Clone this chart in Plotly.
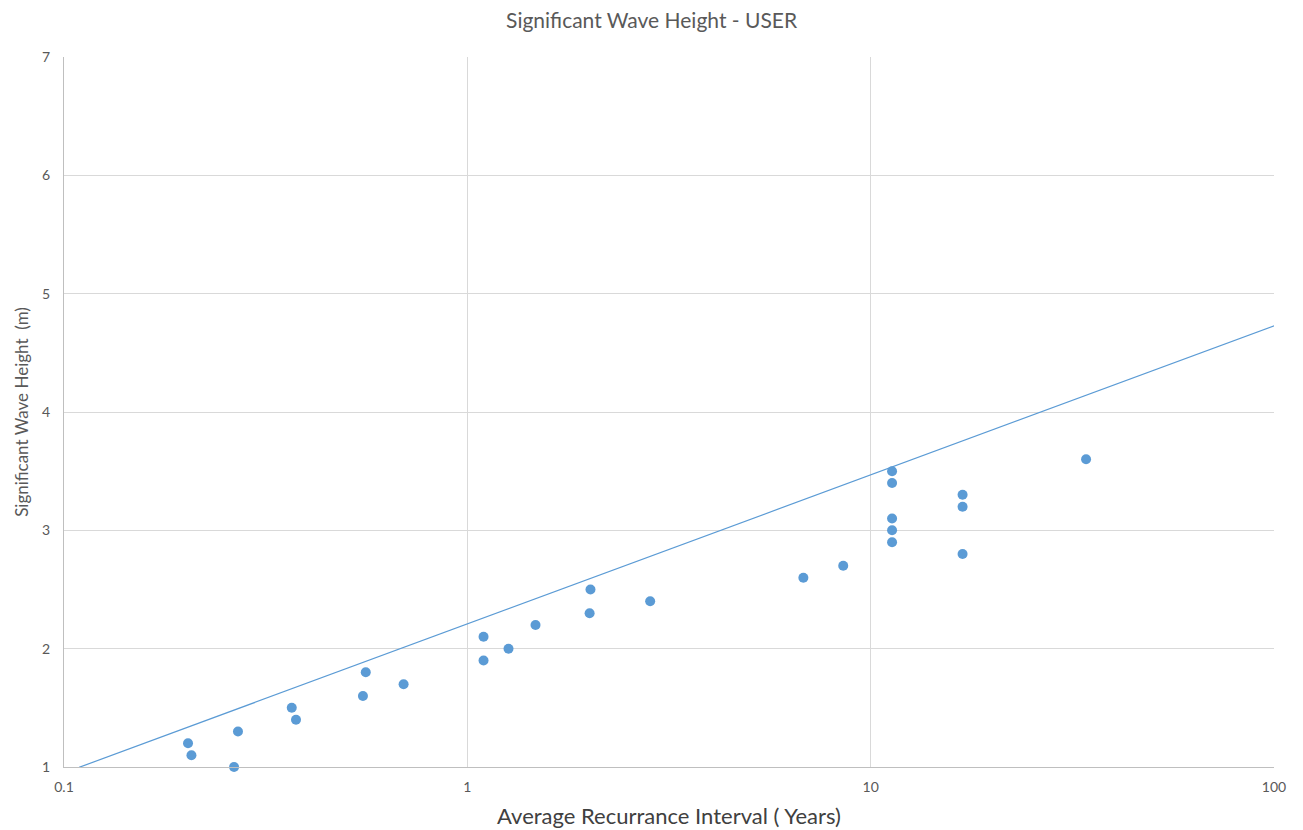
import plotly.graph_objects as go

# Data
interval_years = [0.203, 0.207, 0.264, 0.270, 0.367, 0.376, 0.551, 0.560, 0.695,
                  1.097, 1.097, 1.265, 1.476, 2.01, 2.02, 2.84, 6.81, 8.55,
                  11.3, 11.3, 11.3, 11.3, 11.3, 16.9, 16.9, 16.9, 34.2]
wave_height_m = [1.2, 1.1, 1.0, 1.3, 1.5, 1.4, 1.6, 1.8, 1.7,
                 1.9, 2.1, 2.0, 2.2, 2.3, 2.5, 2.4, 2.6, 2.7,
                 3.5, 3.4, 3.1, 3.0, 2.9, 3.3, 3.2, 2.8, 3.6]

# Trend line end points
trend_x = [0.109, 106]
trend_y = [0.997, 4.76]

x_tick_vals = [0.1, 1, 10, 100]
x_tick_text = ["0.1", "1", "10", "100"]
y_tick_vals = [1, 2, 3, 4, 5, 6, 7]

blue = "#5b9bd5"
font_family = "Lato, 'Open Sans', sans-serif"

fig = go.Figure()
fig.add_trace(go.Scatter(
    x=trend_x, y=trend_y, mode="lines",
    line=dict(color=blue, width=1.2), hoverinfo="skip", showlegend=False))
fig.add_trace(go.Scatter(
    x=interval_years, y=wave_height_m, mode="markers",
    marker=dict(color=blue, size=10), cliponaxis=False, showlegend=False))

fig.update_layout(
    width=1295, height=822,
    margin=dict(l=56, r=29, t=49, b=63),
    paper_bgcolor="white", plot_bgcolor="white",
    font=dict(family=font_family, color="#595959"),
    title=dict(text="Significant Wave Height - USER", x=0.497, xanchor="center",
               y=0.985, yanchor="middle",
               font=dict(size=21, color="#595959", family=font_family)),
    xaxis=dict(
        type="log", range=[-1, 2], tickvals=x_tick_vals, ticktext=x_tick_text,
        showgrid=True, gridcolor="#d9d9d9", gridwidth=1,
        showline=True, linecolor="#bfbfbf", linewidth=1, mirror=False,
        ticks="", tickfont=dict(size=14, color="#595959"), ticklabelstandoff=7,
        automargin=False,
        title=dict(text="Average Recurrance Interval ( Years)", standoff=14,
                   font=dict(size=22, color="#404040")),
        zeroline=False),
    yaxis=dict(
        range=[1, 7], tickvals=y_tick_vals,
        showgrid=True, gridcolor="#d9d9d9", gridwidth=1,
        showline=True, linecolor="#bfbfbf", linewidth=1,
        ticks="", tickfont=dict(size=14, color="#595959"), ticklabelstandoff=10,
        automargin=False,
        title=dict(text="Significant Wave Height  (m)", standoff=9,
                   font=dict(size=17, color="#595959")),
        zeroline=False),
)

fig.write_html("out.html")
